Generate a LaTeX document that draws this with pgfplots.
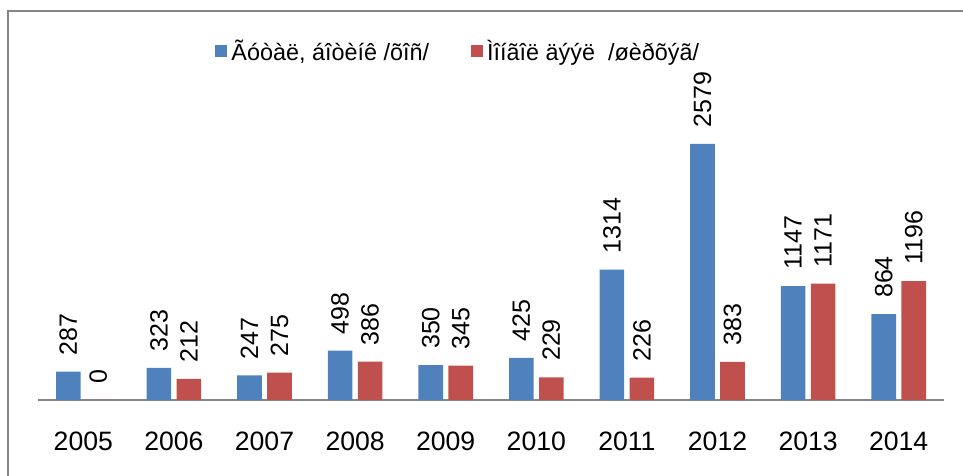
\documentclass[border=0pt]{standalone}
\usepackage{fontspec}
\setmainfont{Liberation Sans}
\usepackage{pgfplots}
\pgfplotsset{compat=1.18}
\definecolor{barblue}{HTML}{4F81BD}
\definecolor{barred}{HTML}{C0504D}
\definecolor{framegray}{HTML}{868686}

\begin{document}
\begin{tikzpicture}
\useasboundingbox (0,0) rectangle (481.5pt,238pt);
% outer chart frame (cut at right and bottom)
\draw[framegray, line width=1.2pt] (4pt,-20pt) -- (4pt,232.5pt) -- (520pt,232.5pt);
\begin{axis}[
    at={(19pt,38pt)}, anchor=south west,
    scale only axis,
    width=453pt, height=183.7pt,
    ybar=2.7pt, bar width=12.3pt,
    ymin=0, ymax=3700,
    xmin=-0.5, xmax=9.5,
    clip=false,
    axis x line*=bottom,
    axis y line=none,
    x axis line style={framegray, line width=0.9pt, -},
    xtick={0,...,9},
    xticklabels={2005,2006,2007,2008,2009,2010,2011,2012,2013,2014},
    xtick style={draw=none},
    xticklabel style={font=\fontsize{13.3}{15}\selectfont, inner sep=0pt, anchor=north, yshift=-11.5pt},
    /pgf/number format/.cd, fixed, precision=0, 1000 sep={}, assume math mode=true,
    /pgfplots/.cd,
    nodes near coords,
    nodes near coords style={font=\fontsize{12.5}{14}\selectfont, rotate=90, anchor=west, inner xsep=8pt, inner ysep=0pt},
    legend image code/.code={\fill[#1] (0pt,-3pt) rectangle (6pt,3pt);},
    legend columns=2,
    legend style={draw=none, fill=none, at={(axis cs:4.15,3510)}, anchor=center,
        font=\fontsize{11.7}{13}\selectfont,
        /tikz/every even column/.append style={column sep=19pt}},
]
\addplot[fill=barblue, draw=none] coordinates {
    (0,287) (1,323) (2,247) (3,498) (4,350)
    (5,425) (6,1314) (7,2579) (8,1147) (9,864)
};
\addlegendentry{Ãóòàë, áîòèíê /õîñ/}
\addplot[fill=barred, draw=none] coordinates {
    (0,0) (1,212) (2,275) (3,386) (4,345)
    (5,229) (6,226) (7,383) (8,1171) (9,1196)
};
\addlegendentry{Ìîíãîë äýýë\ \ /øèðõýã/}
\end{axis}
\end{tikzpicture}
\end{document}
